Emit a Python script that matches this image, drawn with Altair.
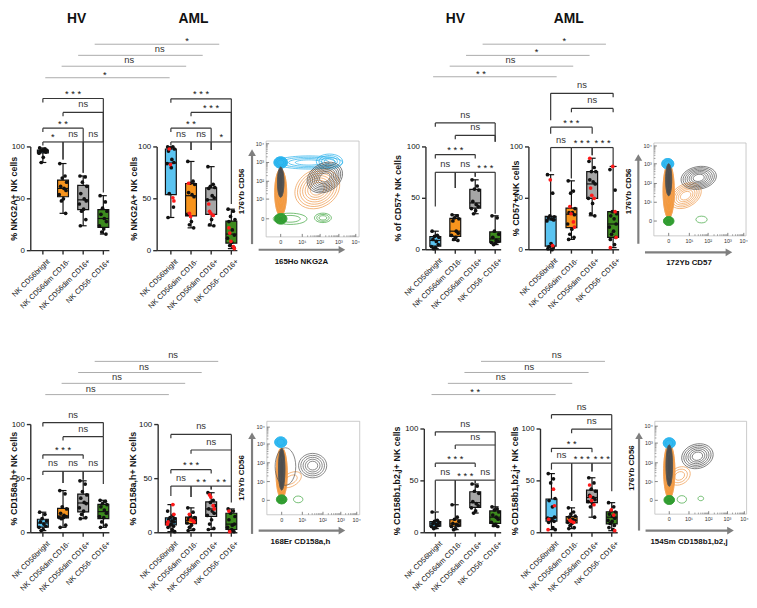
import math
import altair as alt
import pandas as pd

FONT = "Liberation Sans"
CATS = ["NK CD56bright", "NK CD56dim CD16-", "NK CD56dim CD16+", "NK CD56- CD16+"]
BOX_COLORS = ["#5BC4F1", "#F7941D", "#A6A6A6", "#3D8B1E"]
RED = "#FF1A1A"

# ---------------- data (percent of NK cells) ----------------
NKG2A_HV = [[99, 98, 97, 97, 96, 96, 95, 94, 90, 85],
            [84, 72, 70, 66, 62, 60, 58, 54, 50, 48, 36],
            [72, 71, 66, 62, 55, 50, 48, 45, 40, 38, 30, 24],
            [53, 47, 41, 38, 35, 31, 28, 24, 21, 18, 16]]
NKG2A_AML_BLACK = [[100, 100, 99, 98, 96, 88, 85, 84, 80, 55, 42, 32],
                   [86, 67, 65, 64, 56, 54, 52, 35, 28, 25, 22],
                   [81, 64, 62, 61, 60, 53, 51, 49, 30, 25, 24],
                   [40, 38, 33, 30, 28, 20, 15, 12, 8, 5, 3]]
NKG2A_AML_RED = [[98, 83, 51, 48], [65, 36, 33], [45, 38, 36, 34], [22, 17, 9, 4, 2]]

CD57_HV = [[18, 14, 13, 12, 10, 8, 5, 3, 2, 1],
           [34, 33, 31, 30, 28, 18, 16, 14, 12, 10, 9],
           [68, 62, 59, 58, 47, 44, 42, 40, 38, 35],
           [33, 31, 18, 15, 12, 9, 8, 7, 6, 5]]
CD57_AML_BLACK = [[73, 55, 33, 32, 31, 30, 29, 28, 6, 3, 2, 1, 0],
                  [67, 57, 55, 40, 36, 36, 34, 25, 20, 15, 12, 10],
                  [86, 80, 76, 76, 68, 66, 64, 50, 45, 35, 33],
                  [78, 58, 37, 35, 33, 30, 25, 22, 18, 15, 12, 10, 5]]
CD57_AML_RED = [[68, 4], [42, 35, 27, 22], [89, 60, 53, 50], [81, 37, 12, 2]]

KIRA_HV = [[19, 17, 13, 11, 10, 8, 6, 5, 3, 2],
           [39, 36, 24, 22, 18, 16, 15, 14, 14, 13, 7, 5],
           [48, 45, 38, 35, 32, 28, 27, 23, 20, 17, 14, 13],
           [30, 29, 27, 26, 24, 21, 18, 15, 14, 10, 7, 5]]
KIRA_AML_BLACK = [[20, 16, 14, 13, 12, 11, 10, 9, 8, 7, 6, 5, 3, 1],
                  [23, 19, 16, 14, 13, 12, 11, 9, 7, 5, 3, 2],
                  [37, 30, 28, 25, 22, 20, 18, 16, 12, 8, 4, 3],
                  [22, 20, 18, 15, 12, 7, 8, 5, 3, 2, 1]]
KIRA_AML_RED = [[26, 17, 10, 8], [17, 12, 11, 10], [35, 33, 25, 22], [20, 1]]

KIRB_HV = [[20, 12, 11, 10, 9, 8, 7, 6, 5, 4],
           [27, 15, 13, 11, 9, 8, 7, 6, 4, 3],
           [47, 45, 40, 38, 30, 28, 26, 24, 21, 19],
           [25, 23, 22, 20, 17, 15, 13, 10, 8, 7, 6]]
KIRB_AML_BLACK = [[57, 52, 48, 33, 31, 25, 15, 14, 13, 12, 11, 10, 5, 3],
                  [24, 20, 18, 16, 15, 13, 12, 10, 9, 7, 5, 4],
                  [53, 48, 42, 40, 36, 34, 32, 30, 28, 25, 15],
                  [29, 25, 21, 20, 18, 16, 14, 12, 11, 9, 7, 5, 3]]
KIRB_AML_RED = [[42, 26, 13, 3], [12, 11, 10], [46, 35, 31, 27], [22, 17, 2]]

# significance brackets: (group i, group j, level, label, drop end i, drop end j)
NKG2A_HV_BR = [(0, 3, 146.7, "***", 142.9, 104.8), (1, 3, 133.3, "ns", 129.5, 104.8),
               (0, 2, 118.1, "**", 114.3, 104.8), (0, 1, 104.8, "*", 101.5, 88),
               (1, 2, 104.8, "ns", 88, 75), (2, 3, 104.8, "ns", 75, 56)]
NKG2A_AML_BR = [(0, 3, 146.4, "***", 142.6, 104.8), (1, 3, 133.3, "***", 129.5, 104.8),
                (0, 2, 118.1, "**", 114.3, 104.8), (0, 1, 104.8, "ns", 101.5, 97),
                (1, 2, 104.8, "ns", 97, 97), (2, 3, 104.8, "*", 97, 45)]
NKG2A_CROSS = [(0.12, 6.29, 166.7, "*", 3.07), (0.93, 7.11, 177.8, "ns", 4.28),
               (1.75, 7.93, 188.3, "ns", 5.80), (2.57, 8.75, 199.0, "*", 7.16)]

CD57_HV_BR = [(0, 3, 123.4, "ns", 119.6, 105), (1, 3, 111.2, "ns", 107.4, 105),
              (0, 2, 92.6, "***", 88.8, 88.8), (0, 1, 75.3, "ns", 42, 60),
              (1, 2, 75.3, "ns", 60, 71), (2, 3, 75.3, "***", 71, 35)]
CD57_AML_BR = [(0, 3, 152.2, "ns", 126, 148.4), (1, 3, 137.5, "ns", 133.7, 133.7),
               (0, 2, 119.2, "***", 112.8, 112.8), (0, 1, 99.4, "ns", 76, 69.5),
               (1, 2, 99.4, "***", 69.5, 92), (2, 3, 99.4, "***", 92, 82.5)]
CD57_CROSS = [(-0.11, 6.08, 168.3, "**", 2.29), (0.72, 6.91, 178.6, "ns", 3.77),
              (1.54, 7.73, 189.1, "*", 5.07), (2.37, 8.55, 200.0, "*", 6.46)]

KIRA_HV_BR = [(0, 3, 101.8, "ns", 98.3, 88.8), (1, 3, 88.8, "ns", 85.3, 56.8),
              (0, 2, 72.0, "***", 68.5, 68.5), (0, 1, 56.8, "ns", 53.3, 46),
              (1, 2, 56.8, "ns", 46, 49), (2, 3, 56.8, "ns", 49, 45)]
KIRA_AML_BR = [(0, 3, 90.9, "ns", 87.4, 76.5), (1, 3, 76.5, "ns", 73, 43.1),
               (0, 2, 58.3, "***", 54.8, 54.8), (0, 1, 43.1, "ns", 34, 33),
               (1, 2, 43.1, "**", 33, 40), (2, 3, 43.1, "**", 40, 28)]
KIRA_CROSS = [(0.12, 6.25, 127.7, "ns", 2.37), (0.93, 7.06, 138.1, "ns", 3.68),
              (1.75, 7.88, 148.1, "ns", 5.02), (2.57, 8.70, 158.4, "ns", 6.46)]

KIRB_HV_BR = [(0, 3, 97.3, "ns", 93.5, 84.6), (1, 3, 84.6, "ns", 80.8, 50.7),
              (0, 2, 67.1, "***", 63.3, 63.3), (0, 1, 50.7, "ns", 21, 27.5),
              (1, 2, 50.7, "***", 27.5, 48), (2, 3, 50.7, "ns", 48, 24)]
KIRB_AML_BR = [(0, 3, 113.8, "ns", 110, 99.8), (1, 3, 99.8, "ns", 96, 67.1),
               (0, 2, 81.4, "**", 77.6, 77.6), (0, 1, 67.1, "ns", 60.8, 30.6),
               (1, 2, 67.1, "***", 30.6, 59), (2, 3, 67.1, "***", 59, 40)]
KIRB_CROSS = [(-0.19, 6.03, 133.2, "**", 2.0), (0.63, 6.86, 144.0, "ns", 3.28),
              (1.46, 7.68, 154.5, "ns", 4.71), (2.29, 8.50, 165.2, "ns", 6.08)]

# contour populations: (cx, cy, rx, ry, angle, rings, colour, filled core) in decade units
NKG2A_BLOBS = [(1.95, 1.6, 1.25, 1.0, 330, 7, "orange", False),
               (0.0, 1.4, 0.32, 1.25, 0, 3, "orange", True),
               (0.5, 0.0, 0.9, 0.3, 0, 2, "green", False),
               (0.0, 0.0, 0.33, 0.28, 0, 3, "green", True),
               (2.25, 0.05, 0.45, 0.25, 0, 3, "green", False),
               (1.5, 3.0, 1.8, 0.35, 0, 4, "blue", False),
               (2.6, 3.05, 0.7, 0.4, 0, 4, "blue", False),
               (0.0, 3.0, 0.36, 0.3, 0, 3, "blue", True),
               (2.35, 2.2, 1.0, 0.75, 330, 8, "gray", False),
               (0.0, 1.95, 0.17, 0.8, 0, 2, "gray", True)]
CD57_BLOBS = [(0.9, 1.35, 0.9, 0.6, 330, 6, "orange", False),
              (0.0, 1.6, 0.3, 1.45, 0, 3, "orange", True),
              (0.0, 0.0, 0.28, 0.24, 0, 2, "green", True),
              (1.75, 0.08, 0.3, 0.18, 0, 1, "green", False),
              (-0.05, 3.05, 0.32, 0.28, 0, 2, "blue", True),
              (1.6, 2.3, 0.95, 0.6, 350, 7, "gray", False),
              (0.0, 2.2, 0.16, 0.85, 0, 2, "gray", True)]
KIRA_BLOBS = [(0.5, 1.1, 0.6, 0.35, 330, 2, "orange", False),
              (0.0, 1.45, 0.3, 1.35, 0, 3, "orange", True),
              (0.0, 0.05, 0.28, 0.24, 0, 2, "green", True),
              (0.88, 0.05, 0.25, 0.18, 0, 1, "green", False),
              (-0.05, 3.1, 0.32, 0.28, 0, 2, "blue", True),
              (0.2, 1.8, 0.55, 1.0, 0, 1, "gray", False),
              (1.65, 1.85, 0.75, 0.65, 0, 5, "gray", False),
              (0.0, 1.65, 0.17, 1.1, 0, 2, "gray", True)]
KIRB_BLOBS = [(0.55, 1.3, 0.6, 0.45, 330, 3, "orange", False),
              (0.0, 1.55, 0.3, 1.45, 0, 3, "orange", True),
              (0.0, 0.02, 0.28, 0.24, 0, 2, "green", True),
              (0.67, 0.05, 0.25, 0.2, 0, 1, "green", False),
              (1.68, 0.1, 0.15, 0.12, 0, 1, "green", False),
              (0.0, 3.05, 0.32, 0.28, 0, 2, "blue", True),
              (1.5, 2.35, 0.85, 0.65, 345, 6, "gray", False),
              (0.0, 1.85, 0.17, 1.1, 0, 2, "gray", True)]

LINEC = {"blue": "#20AEEA", "orange": "#F0A057", "gray": "#555555", "green": "#3BA43B"}
FILLC = {"blue": "#33B9F0", "orange": "#F39A3E", "gray": "#4D4D4D", "green": "#2F9B2F"}
DEC_LABELS = ["0", "10\u00b9", "10\u00b2", "10\u00b3", "10\u2074"]
JIT = [-0.16, 0.10, -0.04, 0.18, -0.12, 0.05, 0.15, -0.19, 0.02, -0.08, 0.13, -0.14,
       0.07, 0.19, -0.02, 0.11, -0.17, 0.0]


def sc(dom):
    return alt.Scale(domain=dom, nice=False, zero=False)


def rules(rows, xs, ys):
    df = pd.DataFrame(rows, columns=["x", "x2", "y", "y2", "c", "w"])
    return alt.Chart(df).mark_rule().encode(
        x=alt.X("x:Q", scale=xs, axis=None), x2=alt.X2("x2"),
        y=alt.Y("y:Q", scale=ys, axis=None), y2=alt.Y2("y2"),
        color=alt.Color("c:N", scale=None),
        strokeWidth=alt.StrokeWidth("w:Q", scale=None))


def texts(rows, xs, ys, size, weight="normal", align="center", baseline="middle",
          angle=0, color="#222222"):
    df = pd.DataFrame(rows, columns=["x", "y", "t"])
    return alt.Chart(df).mark_text(font=FONT, fontSize=size, fontWeight=weight, align=align,
                                   baseline=baseline, angle=angle, color=color).encode(
        x=alt.X("x:Q", scale=xs, axis=None), y=alt.Y("y:Q", scale=ys, axis=None), text="t:N")


def box_panel(P, W, H):
    xs, ys = sc(P["xdom"]), sc(P["ydom"])
    pxx, pxy = P["pxx"], P["pxy"]
    hx, ax = P["hv_x"], P["aml_x"]
    rows = []
    for g in range(4):
        for k, v in enumerate(P["hv"][g]):
            rows.append((hx[g], v, "#111111", BOX_COLORS[g], hx[g] + JIT[k % len(JIT)]))
        k = 0
        for v in P["aml_black"][g]:
            rows.append((ax[g], v, "#111111", BOX_COLORS[g], ax[g] + JIT[k % len(JIT)]))
            k += 1
        for v in P["aml_red"][g]:
            rows.append((ax[g], v, RED, BOX_COLORS[g], ax[g] + JIT[(k * 5 + 3) % len(JIT)]))
            k += 1
    pts = pd.DataFrame(rows, columns=["pos", "v", "dot", "bc", "px"])
    bw, cw = 5.5 / pxx, 3.5 / pxx

    def X(f):
        return alt.X(f + ":Q", scale=xs, axis=None)

    def Y(f):
        return alt.Y(f + ":Q", scale=ys, axis=None)

    base = alt.Chart(pts).transform_aggregate(
        q1="q1(v)", q3="q3(v)", med="median(v)", lo="min(v)", hi="max(v)",
        groupby=["pos", "bc"]).transform_calculate(
        xl=f"datum.pos - {bw}", xr=f"datum.pos + {bw}",
        cl=f"datum.pos - {cw}", cr=f"datum.pos + {cw}")
    K = "#111111"
    whisk = base.mark_rule(color=K, strokeWidth=1.2).encode(x=X("pos"), y=Y("lo"), y2=alt.Y2("hi"))
    cap_lo = base.mark_rule(color=K, strokeWidth=1.2).encode(x=X("cl"), x2=alt.X2("cr"), y=Y("lo"))
    cap_hi = base.mark_rule(color=K, strokeWidth=1.2).encode(x=X("cl"), x2=alt.X2("cr"), y=Y("hi"))
    box = base.mark_rect(stroke=K, strokeWidth=1.2).encode(
        x=X("xl"), x2=alt.X2("xr"), y=Y("q1"), y2=alt.Y2("q3"),
        fill=alt.Fill("bc:N", scale=None))
    med = base.mark_rule(color=K, strokeWidth=1.2).encode(x=X("xl"), x2=alt.X2("xr"), y=Y("med"))
    dots = alt.Chart(pts).mark_circle(size=14, opacity=1).encode(
        x=X("px"), y=Y("v"), color=alt.Color("dot:N", scale=None))

    seg = []
    AX = "#2E2E2E"
    tick_labels, cat_labels = [], []
    for a, xp in ((P["hv_axis"], hx), (P["aml_axis"], ax)):
        seg.append((a, a, 0, 100, AX, 1.4))
        seg.append((a, xp[3] + 0.3, 0, 0, AX, 1.4))
        for t in (0, 50, 100):
            seg.append((a - 4 / pxx, a, t, t, AX, 1.4))
            tick_labels.append((a - 6 / pxx, t, str(t)))
        for g, c in enumerate(xp):
            seg.append((c, c, 0, -4 / pxy, AX, 1.4))
            cat_labels.append((c + 0.3, -10 / pxy, CATS[g]))
    BR = "#363636"
    labs_ns, labs_st = [], []
    for xp, brs in ((hx, P["hv_br"]), (ax, P["aml_br"])):
        for i, j, lev, lab, di, dj in brs:
            seg += [(xp[i], xp[j], lev, lev, BR, 1.2),
                    (xp[i], xp[i], lev, di, BR, 1.2),
                    (xp[j], xp[j], lev, dj, BR, 1.2)]
            xm = (xp[i] + xp[j]) / 2
            if lab == "ns":
                labs_ns.append((xm, lev + 8 / pxy, "ns"))
            else:
                labs_st.append((xm, lev + 4.5 / pxy, " ".join(lab)))
    cross = []
    for x1, x2, lev, lab, lx in P["cross"]:
        cross.append((x1, x2, lev, lev, "#ABABAB", 1.0))
        if lab == "ns":
            labs_ns.append((lx, lev + 6 / pxy, "ns"))
        else:
            labs_st.append((lx, lev + 3 / pxy, " ".join(lab)))

    layers = [rules(cross, xs, ys), rules(seg, xs, ys), whisk, box, med, cap_lo, cap_hi, dots,
              texts(tick_labels, xs, ys, 8, align="right", color="#111111"),
              texts(cat_labels, xs, ys, 7.5, align="right", angle=315, color="#111111"),
              texts([(P["hv_title_x"], 50, P["ytitle_hv"]), (P["aml_title_x"], 50, P["ytitle_aml"])],
                    xs, ys, 9, weight="bold", angle=270, color="#111111"),
              texts(labs_ns, xs, ys, 9.5, color="#333333"),
              texts(labs_st, xs, ys, 9.5, color="#111111")]
    if "title_v" in P:
        layers.append(texts([(P["title_hv_x"], P["title_v"], "HV"),
                             (P["title_aml_x"], P["title_v"], "AML")],
                            xs, ys, 14, weight="bold", color="#111111"))
    return alt.layer(*layers).properties(width=W, height=H)


def ellipse_path(a, b):
    return (f"M {-a:.3f},0 A {a:.3f},{b:.3f} 0 1,0 {a:.3f},0 "
            f"A {a:.3f},{b:.3f} 0 1,0 {-a:.3f},0 Z")


def contour_panel(C, W, H, upx=19.0):
    xs, ys = sc(C["xdom"]), sc(C["ydom"])
    fx0, fx1, fy0, fy1 = C["frame"]
    FR = "#BDBDBD"
    seg = [(fx0, fx1, fy0, fy0, FR, 0.8), (fx0, fx1, fy1, fy1, FR, 0.8),
           (fx0, fx0, fy0, fy1, FR, 0.8), (fx1, fx1, fy0, fy1, FR, 0.8)]
    TK = "#666666"

    def minors(T):
        out = []
        for i in range(1, len(T) - 1):
            for k in range(2, 10):
                out.append(T[i] + math.log10(k) * (T[i + 1] - T[i]))
        return out

    for t in C["xt"]:
        seg.append((t, t, fy0, fy0 + 3 / upx, TK, 0.8))
    for t in minors(C["xt"]):
        seg.append((t, t, fy0, fy0 + 1.6 / upx, TK, 0.6))
    for t in C["yt"]:
        seg.append((fx0, fx0 + 3 / upx, t, t, TK, 0.8))
    for t in minors(C["yt"]):
        seg.append((fx0, fx0 + 1.6 / upx, t, t, TK, 0.6))
    AR = "#7F7F7F"
    yx, y0, ytip = C["yarrow"]
    xy, x0, xtip = C["xarrow"]
    arrows = [(yx, yx, y0, ytip - 6 / upx, AR, 2.2), (x0, xtip - 6 / upx, xy, xy, AR, 2.2)]
    tri = pd.DataFrame([dict(x=yx, y=ytip - 4 / upx, s="triangle-up"),
                        dict(x=xtip - 4 / upx, y=xy, s="triangle-right")])
    heads = alt.Chart(tri).mark_point(filled=True, size=60, color=AR, opacity=1).encode(
        x=alt.X("x:Q", scale=xs, axis=None), y=alt.Y("y:Q", scale=ys, axis=None),
        shape=alt.Shape("s:N", scale=None))

    brow = []

    def mk(cx, cy, rx, ry, ang, fill, stroke):
        rxp, ryp = rx * upx, ry * upx
        m = max(rxp, ryp)
        brow.append(dict(x=cx, y=cy, path=ellipse_path(rxp / m, ryp / m), size=(2 * m) ** 2,
                         ang=ang, fill=fill, stroke=stroke))

    for cx, cy, rx, ry, ang, n, col, filled in C["blobs"]:
        if filled:
            mk(cx, cy, rx, ry, ang, FILLC[col], FILLC[col])
        for r in range(n):
            s = 1.0 - r * 0.8 / max(n, 1)
            mk(cx, cy, rx * s, ry * s, ang, "transparent", LINEC[col])
    blobs = alt.Chart(pd.DataFrame(brow)).mark_point(filled=True, strokeWidth=0.7, opacity=1).encode(
        x=alt.X("x:Q", scale=xs, axis=None), y=alt.Y("y:Q", scale=ys, axis=None),
        shape=alt.Shape("path:N", scale=None), size=alt.Size("size:Q", scale=None),
        angle=alt.Angle("ang:Q", scale=None), fill=alt.Fill("fill:N", scale=None),
        stroke=alt.Stroke("stroke:N", scale=None))

    xl = [(t, fy0 - 5 / upx, lab) for t, lab in zip(C["xt"], DEC_LABELS)]
    yl = [(fx0 - 2 / upx, t, lab) for t, lab in zip(C["yt"], DEC_LABELS)]
    layers = [rules(seg, xs, ys), blobs, rules(arrows, xs, ys), heads,
              texts(xl, xs, ys, 5.5, color="#333333"),
              texts(yl, xs, ys, 5.5, align="right", color="#333333"),
              texts([(C["xlab"][0], C["xlab"][1], C["xlab"][2])], xs, ys, 8, weight="bold",
                    color="#111111"),
              texts([(C["ylab"][0], C["ylab"][1], "176Yb CD56")], xs, ys, 8, weight="bold",
                    angle=270, color="#111111")]
    return alt.layer(*layers).properties(width=W, height=H)


P1 = dict(xdom=[-1.730, 10.132], ydom=[-51.43, 230.48], pxx=20.4, pxy=1.05,
          hv_x=[0, 1, 2, 3], aml_x=[6.35, 7.35, 8.35, 9.35], hv_axis=-0.60, aml_axis=5.67,
          hv_title_x=-1.45, aml_title_x=4.50,
          ytitle_hv="% NKG2A+ NK cells", ytitle_aml="% NKG2A+ NK cells",
          hv=NKG2A_HV, aml_black=NKG2A_AML_BLACK, aml_red=NKG2A_AML_RED,
          hv_br=NKG2A_HV_BR, aml_br=NKG2A_AML_BR, cross=NKG2A_CROSS,
          title_v=222.9, title_hv_x=1.67, title_aml_x=7.47)
P3 = dict(xdom=[-3.094, 9.876], ydom=[-52.88, 231.73], pxx=20.2, pxy=1.04,
          hv_x=[0, 1, 2, 3], aml_x=[5.78, 6.82, 7.86, 8.91], hv_axis=-0.47, aml_axis=4.69,
          hv_title_x=-1.87, aml_title_x=4.02,
          ytitle_hv="% of CD57+ NK cells", ytitle_aml="% CD57+ NK cells",
          hv=CD57_HV, aml_black=CD57_AML_BLACK, aml_red=CD57_AML_RED,
          hv_br=CD57_HV_BR, aml_br=CD57_AML_BR, cross=CD57_CROSS,
          title_v=224.0, title_hv_x=1.0, title_aml_x=6.69)
P5 = dict(xdom=[-1.730, 10.132], ydom=[-62.56, 211.42], pxx=20.4, pxy=1.095,
          hv_x=[0, 1, 2, 3], aml_x=[6.35, 7.35, 8.35, 9.35], hv_axis=-0.60, aml_axis=5.72,
          hv_title_x=-1.45, aml_title_x=4.45,
          ytitle_hv="% CD158a,h+ NK cells", ytitle_aml="% CD158a,h+ NK cells",
          hv=KIRA_HV, aml_black=KIRA_AML_BLACK, aml_red=KIRA_AML_RED,
          hv_br=KIRA_HV_BR, aml_br=KIRA_AML_BR, cross=KIRA_CROSS)
P7 = dict(xdom=[-3.094, 9.876], ydom=[-65.24, 220.48], pxx=20.2, pxy=1.05,
          hv_x=[0, 1, 2, 3], aml_x=[5.82, 6.83, 7.85, 8.84], hv_axis=-0.55, aml_axis=5.27,
          hv_title_x=-1.92, aml_title_x=3.97,
          ytitle_hv="% CD158b1,b2,j+ NK cells", ytitle_aml="% CD158b1,b2,j+ NK cells",
          hv=KIRB_HV, aml_black=KIRB_AML_BLACK, aml_red=KIRB_AML_RED,
          hv_br=KIRB_HV_BR, aml_br=KIRB_AML_BR, cross=KIRB_CROSS)

C2 = dict(xdom=[-1.789, 4.947], ydom=[-4.54, 11.04], xt=[0, 1.15, 2.1, 3.1, 4.0],
          yt=[0, 1.05, 2.0, 3.0, 4.0], frame=[-0.774, 4.174, -0.963, 4.142],
          yarrow=(-1.526, -1.347, 3.737), xarrow=(-1.647, -1.174, 3.474),
          xlab=(1.105, -2.3, "165Ho NKG2A"), ylab=(-2.05, 1.458), blobs=NKG2A_BLOBS)
C4 = dict(xdom=[-1.932, 4.226], ydom=[-4.421, 11.158], xt=[0, 1.1, 2.1, 3.15, 4.0],
          yt=[0, 1.0, 2.0, 3.05, 4.0], frame=[-0.789, 4.121, -0.789, 4.158],
          yarrow=(-1.616, -1.211, 3.595), xarrow=(-1.668, -1.263, 3.421),
          xlab=(1.084, -2.247, "172Yb CD57"), ylab=(-2.1, 1.579), blobs=CD57_BLOBS)
C6 = dict(xdom=[-1.842, 4.895], ydom=[-5.332, 10.458], xt=[0, 1.1, 2.2, 3.15, 4.0],
          yt=[0, 1.0, 2.0, 3.0, 3.9], frame=[-0.789, 4.158, -0.768, 4.211],
          yarrow=(-1.579, -1.789, 3.653), xarrow=(-1.611, -1.226, 3.421),
          xlab=(1.0, -2.226, "168Er CD158a,h"), ylab=(-2.105, 1.195), blobs=KIRA_BLOBS)
C8 = dict(xdom=[-1.963, 4.195], ydom=[-5.332, 10.458], xt=[0, 1.05, 2.1, 3.1, 4.0],
          yt=[0, 1.0, 2.0, 3.05, 3.95], frame=[-0.768, 4.12, -0.737, 4.211],
          yarrow=(-1.611, -1.611, 3.653), xarrow=(-1.611, -1.263, 3.474),
          xlab=(1.053, -2.195, "154Sm CD158b1,b2,j"), ylab=(-1.963, 1.72), blobs=KIRB_BLOBS)

panels = [box_panel(P1, 242, 296), contour_panel(C2, 128, 296),
          box_panel(P3, 262, 296), contour_panel(C4, 117, 296),
          box_panel(P5, 242, 300), contour_panel(C6, 128, 300),
          box_panel(P7, 262, 300), contour_panel(C8, 117, 300)]
chart = alt.concat(*panels, columns=4, spacing=0, bounds="flush", align="each").properties(
    padding=0).configure_view(stroke=None)

chart.save("out.html", embed_options={"renderer": "svg", "actions": False})
